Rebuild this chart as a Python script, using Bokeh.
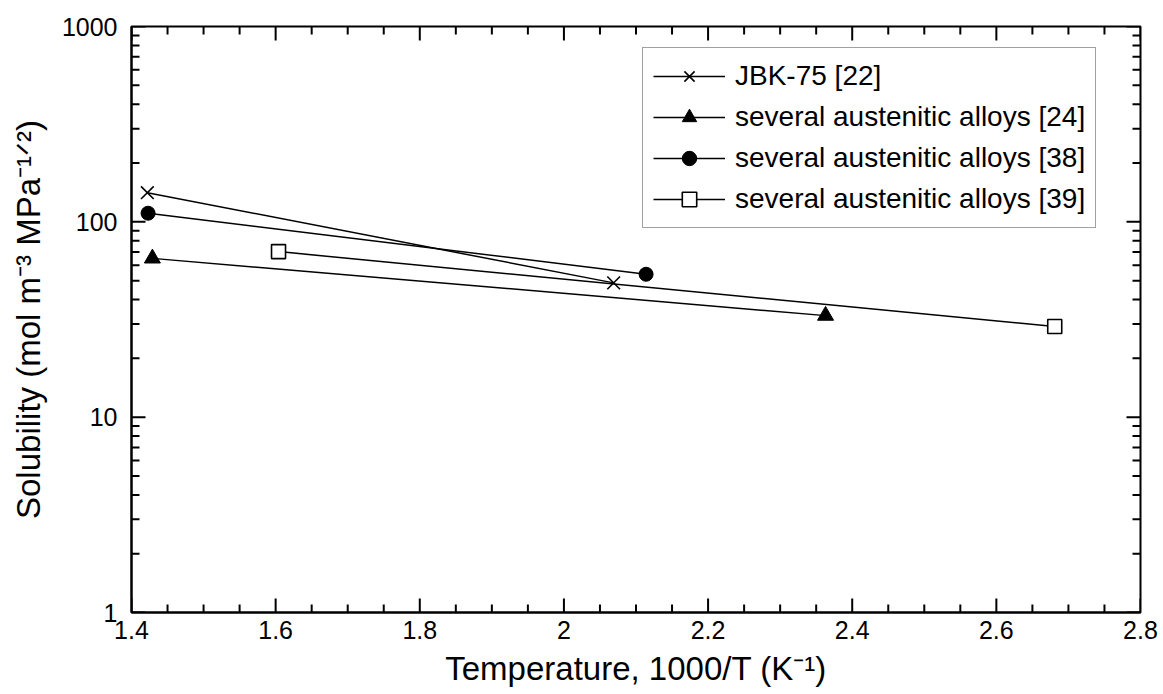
import math
from bokeh.plotting import figure
from bokeh.models import (Range1d, FixedTicker, CustomJSTickFormatter, Legend, LegendItem)
from bokeh.embed import file_html
from bokeh.resources import INLINE

# ---- data ----
x_ticks = [1.4, 1.6, 1.8, 2.0, 2.2, 2.4, 2.6, 2.8]
x_minor = [1.45, 1.5, 1.55, 1.65, 1.7, 1.75, 1.85, 1.9, 1.95, 2.05, 2.1, 2.15,
           2.25, 2.3, 2.35, 2.45, 2.5, 2.55, 2.65, 2.7, 2.75]
y_ticks = [1, 10, 100, 1000]
y_minor = [2, 3, 4, 5, 6, 7, 8, 9, 20, 30, 40, 50, 60, 70, 80, 90,
           200, 300, 400, 500, 600, 700, 800, 900]

jbk_x = [1.422, 2.069]
jbk_y = [141, 48.7]
a24_x = [1.429, 2.363]
a24_y = [65, 33.1]
a38_x = [1.423, 2.114]
a38_y = [110.7, 53.9]
a39_x = [1.604, 2.681]
a39_y = [70.4, 29.1]

labels = ["JBK-75 [22]", "several austenitic alloys [24]",
          "several austenitic alloys [38]", "several austenitic alloys [39]"]

FONT = "Liberation Sans"
X0, X1 = 1.4, 2.8
Y0, Y1 = 1, 1000

p = figure(width=1163, height=694, x_range=Range1d(X0, X1), y_range=Range1d(Y0, Y1),
           y_axis_type="log", output_backend="svg", toolbar_location=None,
           min_border_left=131, min_border_right=23, min_border_top=26, min_border_bottom=82)
p.xgrid.visible = False
p.ygrid.visible = False
p.outline_line_color = "black"
p.outline_line_width = 2
p.background_fill_color = "white"
p.border_fill_color = "white"

xt = FixedTicker(ticks=x_ticks, minor_ticks=x_minor)
yt = FixedTicker(ticks=y_ticks, minor_ticks=y_minor)
xfmt = CustomJSTickFormatter(code="return String(Math.round(tick*10)/10);")
yfmt = CustomJSTickFormatter(code="return tick.toFixed(0);")


def style(ax):
    ax.axis_line_width = 2
    ax.axis_line_color = "black"
    ax.major_tick_in = 0
    ax.major_tick_out = 0
    ax.minor_tick_in = 0
    ax.minor_tick_out = 0
    ax.major_tick_line_color = None
    ax.minor_tick_line_color = None
    ax.major_label_text_font = FONT
    ax.major_label_text_color = "black"
    ax.axis_label_text_font = FONT
    ax.axis_label_text_font_style = "normal"
    ax.axis_label_text_color = "black"


xa = p.xaxis[0]
ya = p.yaxis[0]
style(xa)
style(ya)
xa.ticker = xt
ya.ticker = yt
xa.formatter = xfmt
ya.formatter = yfmt
xa.major_label_text_font_size = "25px"
ya.major_label_text_font_size = "25px"
xa.major_label_standoff = 8
ya.major_label_standoff = 14
xa.axis_label = "Temperature, 1000/T (K⁻¹)"
ya.axis_label = "Solubility (mol m⁻³ MPa⁻¹ᐟ²)"
xa.axis_label_text_font_size = "33px"
ya.axis_label_text_font_size = "33px"
xa.axis_label_standoff = 8
ya.axis_label_standoff = 12

# tick marks pointing inward on all four sides (half of each dash is clipped by the frame)
MAJ, MIN = 28, 16
for xs, sz in ((x_ticks, MAJ), (x_minor, MIN)):
    p.scatter(xs, [Y0] * len(xs), marker="dash", angle=math.pi / 2, size=sz,
              line_color="black", line_width=2)
    p.scatter(xs, [Y1] * len(xs), marker="dash", angle=math.pi / 2, size=sz,
              line_color="black", line_width=2)
for ys, sz in ((y_ticks, MAJ), (y_minor, MIN)):
    p.scatter([X0] * len(ys), ys, marker="dash", size=sz, line_color="black", line_width=2)
    p.scatter([X1] * len(ys), ys, marker="dash", size=sz, line_color="black", line_width=2)

lw = 1.5
r1l = p.line(jbk_x, jbk_y, line_color="black", line_width=lw)
r1m = p.scatter(jbk_x, jbk_y, marker="x", size=18, line_color="black", line_width=1.6)
r2l = p.line(a24_x, a24_y, line_color="black", line_width=lw)
r2m = p.scatter(a24_x, a24_y, marker="triangle", size=16, line_color="black",
                fill_color="black", line_width=1)
r3l = p.line(a38_x, a38_y, line_color="black", line_width=lw)
r3m = p.scatter(a38_x, a38_y, marker="circle", size=14, line_color="black",
                fill_color="black", line_width=1)
r4l = p.line(a39_x, a39_y, line_color="black", line_width=lw)
r4m = p.scatter(a39_x, a39_y, marker="square", size=14, line_color="black",
                fill_color="white", line_width=1.6)

legend = Legend(items=[
    LegendItem(label=labels[0], renderers=[r1l, r1m]),
    LegendItem(label=labels[1], renderers=[r2l, r2m]),
    LegendItem(label=labels[2], renderers=[r3l, r3m]),
    LegendItem(label=labels[3], renderers=[r4l, r4m]),
], location=(511, 384))
legend.label_text_font = FONT
legend.label_text_font_size = "28px"
legend.label_text_color = "black"
legend.glyph_width = 72
legend.glyph_height = 36
legend.label_height = 36
legend.label_standoff = 10
legend.spacing = 5
legend.padding = 10
legend.margin = 0
legend.border_line_color = "#444444"
legend.border_line_width = 1
legend.background_fill_alpha = 1
p.add_layout(legend)

open("out.html", "w").write(file_html(p, INLINE))
